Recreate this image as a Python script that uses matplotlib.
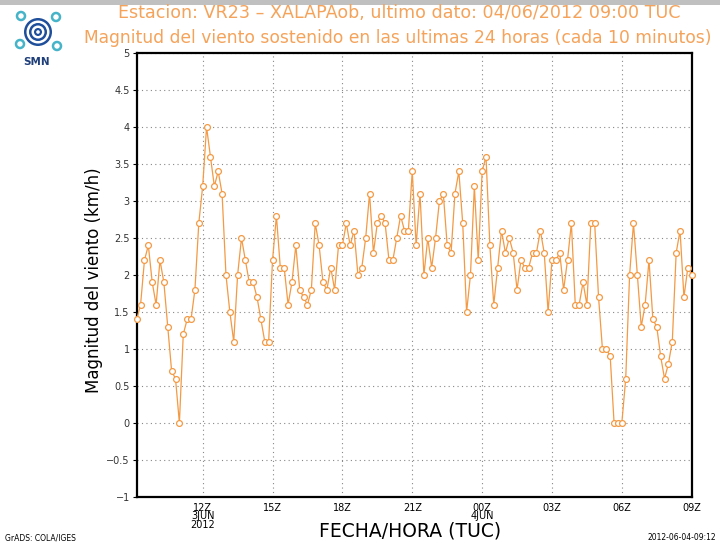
import numpy as np
import matplotlib
matplotlib.use('Agg')
import matplotlib.pyplot as plt
from matplotlib.patches import Circle, Rectangle

############################################################################
############################### DATOS ######################################
############################################################################

# Magnitud del viento cada 10 minutos (km/h), de 03/06 09:10 a 04/06 09:00 TUC
viento = [1.4, 1.6, 2.2, 2.4, 1.9, 1.6, 2.2, 1.9, 1.3, 0.7, 0.6, 0.0,
          1.2, 1.4, 1.4, 1.8, 2.7, 3.2, 4.0, 3.6, 3.2, 3.4, 3.1, 2.0,
          1.5, 1.1, 2.0, 2.5, 2.2, 1.9, 1.9, 1.7, 1.4, 1.1, 1.1, 2.2,
          2.8, 2.1, 2.1, 1.6, 1.9, 2.4, 1.8, 1.7, 1.6, 1.8, 2.7, 2.4,
          1.9, 1.8, 2.1, 1.8, 2.4, 2.4, 2.7, 2.4, 2.6, 2.0, 2.1, 2.5,
          3.1, 2.3, 2.7, 2.8, 2.7, 2.2, 2.2, 2.5, 2.8, 2.6, 2.6, 3.4,
          2.4, 3.1, 2.0, 2.5, 2.1, 2.5, 3.0, 3.1, 2.4, 2.3, 3.1, 3.4,
          2.7, 1.5, 2.0, 3.2, 2.2, 3.4, 3.6, 2.4, 1.6, 2.1, 2.6, 2.3,
          2.5, 2.3, 1.8, 2.2, 2.1, 2.1, 2.3, 2.3, 2.6, 2.3, 1.5, 2.2,
          2.2, 2.3, 1.8, 2.2, 2.7, 1.6, 1.6, 1.9, 1.6, 2.7, 2.7, 1.7,
          1.0, 1.0, 0.9, 0.0, 0.0, 0.0, 0.6, 2.0, 2.7, 2.0, 1.3, 1.6,
          2.2, 1.4, 1.3, 0.9, 0.6, 0.8, 1.1, 2.3, 2.6, 1.7, 2.1, 2.0]

# Horas desde 03/06 00Z (una medida cada 10 minutos)
horas = 9 + np.arange(1, len(viento) + 1) / 6.0

xticks = [12, 15, 18, 21, 24, 27, 30, 33]
xlabels = ['12Z\n3JUN\n2012', '15Z', '18Z', '21Z', '00Z\n4JUN', '03Z', '06Z', '09Z']
yticks = [-1, -0.5, 0, 0.5, 1, 1.5, 2, 2.5, 3, 3.5, 4, 4.5, 5]
ylabels = ['\u22121', '\u22120.5', '0', '0.5', '1', '1.5', '2', '2.5',
           '3', '3.5', '4', '4.5', '5']

titulo1 = 'Estacion: VR23 \u2013 XALAPAob, ultimo dato: 04/06/2012 09:00 TUC'
titulo2 = 'Magnitud del viento sostenido en las ultimas 24 horas (cada 10 minutos)'

naranja = '#f39a45'

############################################################################
############################## GRÁFICA #####################################
############################################################################

W, H = 720, 543
fig = plt.figure(figsize=(W / 100, H / 100), dpi=100)
fig.patch.set_facecolor('white')

# barra gris superior
fig.patches.append(Rectangle((0, 1 - 5 / H), 1, 5 / H, transform=fig.transFigure,
                             facecolor='#c0c0c0', edgecolor='none'))

ax = fig.add_axes([136.7 / W, 1 - 497 / H, (691.7 - 136.7) / W, (497 - 53) / H])

ax.plot(horas, viento, color=naranja, lw=0.9, marker='o', ms=4.2,
        mfc='white', mec=naranja, mew=0.9, clip_on=False, zorder=3)

ax.set_xlim(horas[0], 33)
ax.set_ylim(-1, 5)
ax.set_xticks(xticks)
ax.set_xticklabels(xlabels, fontsize=7, linespacing=0.85)
ax.set_yticks(yticks)
ax.set_yticklabels(ylabels, fontsize=7, color='#333333')
ax.tick_params(axis='x', length=0, pad=4)
ax.tick_params(axis='y', length=3, width=0.8, pad=2)

ax.grid(True, color='#888888', linestyle=(0, (1, 3)), linewidth=0.8)
for s in ax.spines.values():
    s.set_linewidth(1.6)
    s.set_color('black')

# etiquetas de ejes
fig.text(94 / W, 1 - 280 / H, 'Magnitud del viento (km/h)', fontsize=12,
         rotation=90, ha='center', va='center')
fig.text(410 / W, 1 - 531 / H, 'FECHA/HORA (TUC)', fontsize=13.5,
         ha='center', va='center')

# titulos
fig.text(399 / W, 1 - 13 / H, titulo1, color='#f5a35a', fontsize=12.6,
         ha='center', va='center')
fig.text(398 / W, 1 - 38 / H, titulo2, color='#f5a35a', fontsize=12.3,
         ha='center', va='center')

fig.text(5 / W, 1 - 538 / H, 'GrADS: COLA/IGES', fontsize=5.5, va='center')
fig.text(716 / W, 1 - 538 / H, '2012-06-04-09:12', fontsize=5.5, va='center', ha='right')

# logo SMN (aproximado)
logo = fig.add_axes([5 / W, 1 - 70 / H, 58 / W, 64 / H])
logo.set_xlim(0, 58)
logo.set_ylim(70, 6)
logo.axis('off')
for r, c in zip([14, 11.5, 9, 6.5, 4, 1.8],
                ['#1f4f9a', 'white', '#1f4f9a', 'white', '#1f4f9a', 'white']):
    logo.add_patch(Circle((33, 32), r, facecolor=c, edgecolor='none'))
for cx, cy in [(16, 16), (51, 17), (15, 44), (52, 46)]:
    logo.add_patch(Circle((cx, cy), 4, facecolor='none', edgecolor='#45b3c8', lw=1.8))
logo.text(32, 62, 'SMN', color='#1f3f7a', fontsize=7.5, fontweight='bold',
          ha='center', va='center')

fig.savefig('out.png', dpi=100)
